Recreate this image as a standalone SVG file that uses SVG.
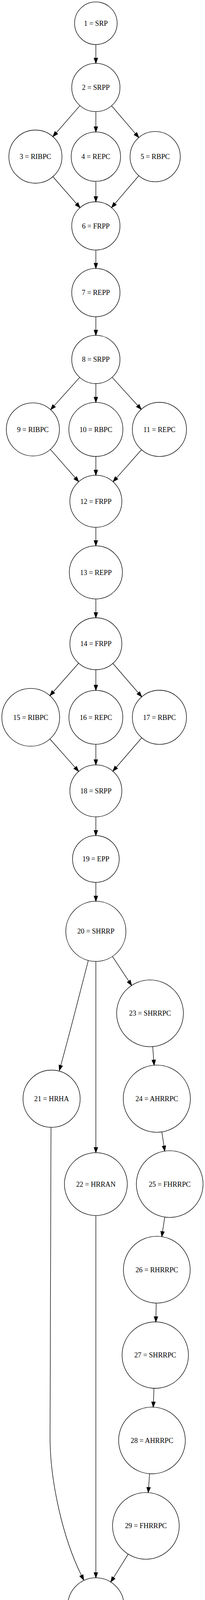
<svg xmlns="http://www.w3.org/2000/svg" width="525" height="4560" viewBox="0 0 525 4560">
<style>
.n ellipse{fill:none;stroke:#000;stroke-width:1.33}
.n text{font-family:"Liberation Serif","Times New Roman",serif;font-size:18.2px;text-anchor:middle;fill:#000}
#edges path{fill:none;stroke:#000;stroke-width:1.33;marker-end:url(#arr)}
</style>
<defs>
<marker id="arr" markerUnits="userSpaceOnUse" markerWidth="16" markerHeight="12" refX="0" refY="6" orient="auto" overflow="visible">
<path d="M0,1.33 L13.3,6 L0,10.67 Z" fill="#000" stroke="#000" stroke-width="1.33"/>
</marker>
</defs>
<rect width="525" height="4560" fill="#fff"/>
<g id="edges">
<path d="M245.5,113.9 L245.5,148.8"/>
<path d="M204.8,270.4 L144.2,339.8"/>
<path d="M245.5,285.7 L245.5,324.5"/>
<path d="M285.7,270.8 L346.9,342.1"/>
<path d="M135.4,452.2 L196.2,521.8"/>
<path d="M245.5,464.2 L245.5,503.2"/>
<path d="M355.6,449.8 L294.3,521.3"/>
<path d="M245.5,640.1 L245.5,673.9"/>
<path d="M245.5,810.8 L245.5,845.1"/>
<path d="M204.1,966.1 L138.6,1038.9"/>
<path d="M245.5,982 L245.5,1016.8"/>
<path d="M287.1,965.9 L352.8,1038.2"/>
<path d="M129,1150.4 L192.8,1223.2"/>
<path d="M245.5,1168.5 L245.5,1203.4"/>
<path d="M362.4,1151.2 L298.4,1223.4"/>
<path d="M245.5,1349.9 L245.5,1384"/>
<path d="M245.5,1533.3 L245.5,1568.2"/>
<path d="M201.4,1697.8 L136.6,1771"/>
<path d="M245.5,1714.5 L245.5,1754"/>
<path d="M289,1698.3 L354.3,1773.8"/>
<path d="M127.8,1891.7 L192.6,1964.9"/>
<path d="M245.5,1905.3 L245.5,1944.8"/>
<path d="M363,1888.7 L297.7,1964.2"/>
<path d="M245.5,2091.1 L245.5,2125.9"/>
<path d="M245.5,2258.8 L245.5,2293.9"/>
<path d="M226,2459.3 C205,2540 180,2640 155.6,2727.6"/>
<path d="M245.5,2461.2 L245.5,2937.5"/>
<path d="M287.9,2448.4 L329.8,2511.7"/>
<path d="M391,2679.3 L393.7,2713.7"/>
<path d="M414.4,2897.7 L419.9,2933.7"/>
<path d="M421.9,3115.8 L416.3,3152.7"/>
<path d="M400,3335.9 L399.4,3370.7"/>
<path d="M394.3,3553.9 L393,3589"/>
<path d="M383.1,3772.8 L380.6,3807.7"/>
<path d="M130.6,2886 L128.2,3680 C128.2,3790 160,3935 208.5,4033"/>
<path d="M245.5,3111.8 L245.5,4025.9"/>
<path d="M328.3,3978.6 L290.7,4038.8"/>
<path d="M245.5,4183.2 L245.5,4217.9"/>
<path d="M245.5,4385.2 L245.5,4420.1"/>
</g>
<g id="node1" class="n"><ellipse cx="245.5" cy="59.4" rx="54.5" ry="54.5"/><text x="245.5" y="65.6">1 = SRP</text></g>
<g id="node2" class="n"><ellipse cx="245.5" cy="223.9" rx="61.8" ry="61.8"/><text x="245.5" y="230.1">2 = SRPP</text></g>
<g id="node3" class="n"><ellipse cx="90.7" cy="401" rx="68" ry="68"/><text x="90.7" y="407.2">3 = RIBPC</text></g>
<g id="node4" class="n"><ellipse cx="245.5" cy="401" rx="63.2" ry="63.2"/><text x="245.5" y="407.2">4 = REPC</text></g>
<g id="node5" class="n"><ellipse cx="397.4" cy="401" rx="64.3" ry="64.3"/><text x="397.4" y="407.2">5 = RBPC</text></g>
<g id="node6" class="n"><ellipse cx="245.5" cy="578.3" rx="61.8" ry="61.8"/><text x="245.5" y="584.5">6 = FRPP</text></g>
<g id="node7" class="n"><ellipse cx="245.5" cy="749" rx="61.8" ry="61.8"/><text x="245.5" y="755.2">7 = REPP</text></g>
<g id="node8" class="n"><ellipse cx="245.5" cy="920.2" rx="61.8" ry="61.8"/><text x="245.5" y="926.4">8 = SRPP</text></g>
<g id="node9" class="n"><ellipse cx="84.2" cy="1099.3" rx="68" ry="68"/><text x="84.2" y="1105.5">9 = RIBPC</text></g>
<g id="node10" class="n"><ellipse cx="245.5" cy="1099.3" rx="69.2" ry="69.2"/><text x="245.5" y="1105.5">10 = RBPC</text></g>
<g id="node11" class="n"><ellipse cx="408.3" cy="1099.3" rx="69.3" ry="69.3"/><text x="408.3" y="1105.5">11 = REPC</text></g>
<g id="node12" class="n"><ellipse cx="245.5" cy="1283.3" rx="66.6" ry="66.6"/><text x="245.5" y="1289.5">12 = FRPP</text></g>
<g id="node13" class="n"><ellipse cx="245.5" cy="1465.3" rx="68" ry="68"/><text x="245.5" y="1471.5">13 = REPP</text></g>
<g id="node14" class="n"><ellipse cx="245.5" cy="1648" rx="66.5" ry="66.5"/><text x="245.5" y="1654.2">14 = FRPP</text></g>
<g id="node15" class="n"><ellipse cx="78.7" cy="1836.3" rx="74" ry="74"/><text x="78.7" y="1842.5">15 = RIBPC</text></g>
<g id="node16" class="n"><ellipse cx="245.5" cy="1836.3" rx="69" ry="69"/><text x="245.5" y="1842.5">16 = REPC</text></g>
<g id="node17" class="n"><ellipse cx="408.3" cy="1836.3" rx="69.3" ry="69.3"/><text x="408.3" y="1842.5">17 = RBPC</text></g>
<g id="node18" class="n"><ellipse cx="245.5" cy="2024.6" rx="66.5" ry="66.5"/><text x="245.5" y="2030.8">18 = SRPP</text></g>
<g id="node19" class="n"><ellipse cx="245.5" cy="2199" rx="59.8" ry="59.8"/><text x="245.5" y="2205.2">19 = EPP</text></g>
<g id="node20" class="n"><ellipse cx="245.5" cy="2384.2" rx="77" ry="77"/><text x="245.5" y="2390.4">20 = SHRRP</text></g>
<g id="node21" class="n"><ellipse cx="132.1" cy="2812.7" rx="73.2" ry="73.2"/><text x="132.1" y="2818.9">21 = HRHA</text></g>
<g id="node22" class="n"><ellipse cx="245.5" cy="3031.3" rx="80.5" ry="80.5"/><text x="245.5" y="3037.5">22 = HRRAN</text></g>
<g id="node23" class="n"><ellipse cx="384.2" cy="2594.1" rx="85.5" ry="85.5"/><text x="384.2" y="2600.3">23 = SHRRPC</text></g>
<g id="node24" class="n"><ellipse cx="401.6" cy="2812.7" rx="86" ry="86"/><text x="401.6" y="2818.9">24 = AHRRPC</text></g>
<g id="node25" class="n"><ellipse cx="434.6" cy="3031.3" rx="85.4" ry="85.4"/><text x="434.6" y="3037.5">25 = FHRRPC</text></g>
<g id="node26" class="n"><ellipse cx="401.6" cy="3250.4" rx="85.5" ry="85.5"/><text x="401.6" y="3256.6">26 = RHRRPC</text></g>
<g id="node27" class="n"><ellipse cx="397.6" cy="3469" rx="85" ry="85"/><text x="397.6" y="3475.2">27 = SHRRPC</text></g>
<g id="node28" class="n"><ellipse cx="389.2" cy="3687.6" rx="85.4" ry="85.4"/><text x="389.2" y="3693.8">28 = AHRRPC</text></g>
<g id="node29" class="n"><ellipse cx="373.6" cy="3906.2" rx="85.4" ry="85.4"/><text x="373.6" y="3912.4">29 = FHRRPC</text></g>
<g id="node30" class="n"><ellipse cx="245.5" cy="4111.2" rx="72" ry="72"/><text x="245.5" y="4117.4">30 = HRRR</text></g>
<g id="node31" class="n"><ellipse cx="245.5" cy="4308.2" rx="77" ry="77"/><text x="245.5" y="4314.4">31 = FHRRP</text></g>
<g id="node32" class="n"><ellipse cx="245.5" cy="4494.1" rx="60.7" ry="60.7"/><text x="245.5" y="4500.3">32 = FRP</text></g>
</svg>
